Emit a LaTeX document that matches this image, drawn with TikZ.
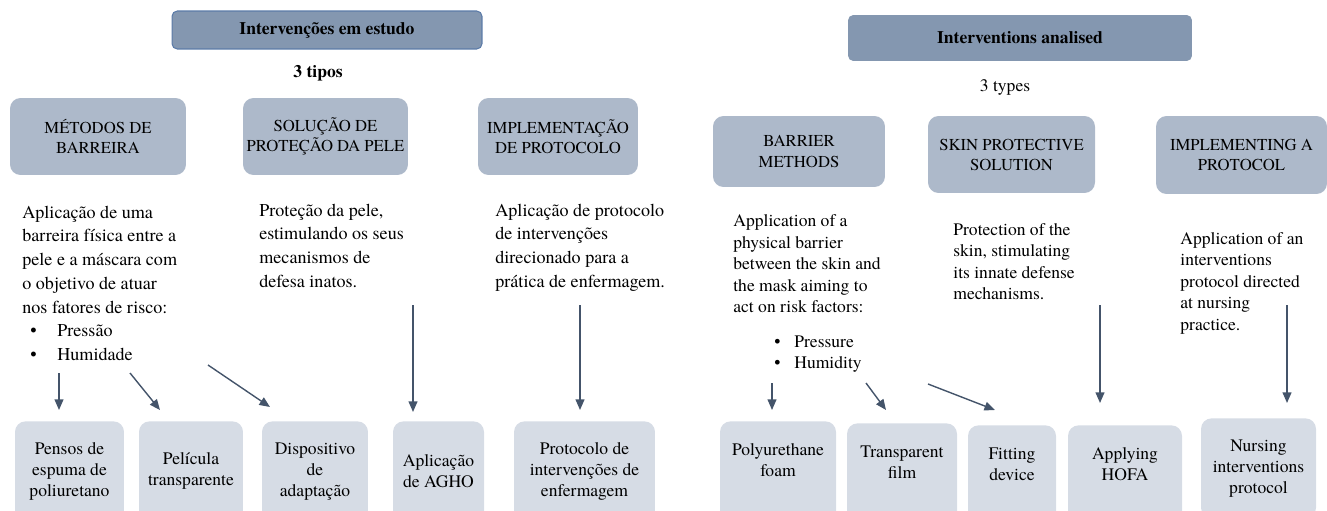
\documentclass[tikz,border=0pt]{standalone}
\usepackage{fontspec}
\setmainfont{TeX Gyre Termes}
\usetikzlibrary{arrows.meta}

\definecolor{titlefill}{HTML}{8497B0}
\definecolor{titleline}{HTML}{5B7BA8}
\definecolor{typefill}{HTML}{ADB9CA}
\definecolor{itemfill}{HTML}{D6DCE5}
\definecolor{arrowcol}{HTML}{44546A}

\begin{document}
\begin{tikzpicture}[x=0.02cm, y=-0.02cm,
    titlebox/.style={fill=titlefill, rounded corners=3pt, inner sep=0pt, font=\bfseries\fontsize{10}{12}\selectfont},
    typebox/.style={fill=typefill, rounded corners=6pt, inner sep=0pt, align=center, font=\fontsize{9.5}{11.4}\selectfont},
    itembox/.style={fill=itemfill, rounded corners=6pt, inner sep=0pt, anchor=north, minimum height=2cm, align=center, font=\fontsize{10}{11.9}\selectfont},
    raised/.style={text depth=0.45cm},
    bodytxtPT/.style={anchor=north west, inner sep=0pt, align=left, font=\fontsize{10.3}{13.5}\selectfont},
    bodytxtEN/.style={anchor=north west, inner sep=0pt, align=left, font=\fontsize{10}{12.2}\selectfont},
    arr/.style={draw=arrowcol, line width=0.8pt, -{Triangle[length=6pt,width=5pt]}}]
    \useasboundingbox (0,0) rectangle (1327,510);

    % Draw the left chart (Portuguese)
    \node[titlebox, draw=titleline, line width=0.6pt, minimum width=6.2cm, minimum height=0.76cm] (tituloPT) at (327,30) {Intervenções em estudo};
    \node[font=\bfseries\fontsize{10}{12}\selectfont] (tiposPT) at (318,73) {3 tipos};

    \node[typebox, minimum width=3.52cm, minimum height=1.54cm] (metodos) at (98,136.5) {MÉTODOS DE\\BARREIRA};
    \node[typebox, minimum width=3.3cm, minimum height=1.54cm] (solucao) at (325.5,136.5) {SOLUÇÃO DE\\PROTEÇÃO DA PELE};
    \node[typebox, minimum width=3.2cm, minimum height=1.54cm] (implementa) at (558,136.5) {IMPLEMENTAÇÃO\\DE PROTOCOLO};

    \node[bodytxtPT] (txtmetodos) at (22,205.5) {Aplicação de uma\\barreira física entre a\\pele e a máscara com\\o objetivo de atuar\\nos fatores de risco:\\
        \makebox[0.7cm][l]{\hspace{0.16cm}\textbullet}Pressão\\
        \makebox[0.7cm][l]{\hspace{0.16cm}\textbullet}Humidade};
    \node[bodytxtPT] (txtsolucao) at (259,203.5) {Proteção da pele,\\estimulando os seus\\mecanismos de\\defesa inatos.};
    \node[bodytxtPT] (txtimplementa) at (495,203.5) {Aplicação de protocolo\\de intervenções\\direcionado para a\\prática de enfermagem.};

    \node[itembox, minimum width=2.18cm] (pensos) at (69.5,421) {Pensos de\\espuma de\\poliuretano};
    \node[itembox, minimum width=2.08cm] (pelicula) at (191,421) {Película\\transparente};
    \node[itembox, minimum width=2.12cm] (dispositivo) at (315,421) {Dispositivo\\de\\adaptação};
    \node[itembox, minimum width=1.82cm] (agho) at (438.5,421) {Aplicação\\de AGHO};
    \node[itembox, minimum width=2.82cm] (protocolo) at (584.5,421) {Protocolo de\\intervenções de\\enfermagem};

    % Add arrows
    \coordinate (pensosS) at (59,373);   \coordinate (pensosE) at (59,410);
    \coordinate (peliculaS) at (130,373); \coordinate (peliculaE) at (160,410);
    \coordinate (dispS) at (208,365);    \coordinate (dispE) at (270,407);
    \coordinate (aghoS) at (413,305);    \coordinate (aghoE) at (413,412);
    \coordinate (protS) at (580,305);    \coordinate (protE) at (580,410);
    \draw[arr] (pensosS) -- (pensosE);
    \draw[arr] (peliculaS) -- (peliculaE);
    \draw[arr] (dispS) -- (dispE);
    \draw[arr] (aghoS) -- (aghoE);
    \draw[arr] (protS) -- (protE);

    % Draw the right chart (English)
    \node[titlebox, minimum width=6.88cm, minimum height=0.92cm] (titleEN) at (1020,38) {Interventions analised};
    \node[font=\fontsize{10}{12}\selectfont] (typesEN) at (1005,87) {3 types};

    \node[typebox, minimum width=3.44cm, minimum height=1.42cm] (barrier) at (799,151.5) {BARRIER\\METHODS};
    \node[typebox, minimum width=3.34cm, minimum height=1.54cm] (skin) at (1011.5,154.5) {SKIN PROTECTIVE\\SOLUTION};
    \node[typebox, minimum width=3.42cm, minimum height=1.56cm] (implementing) at (1241.5,155) {IMPLEMENTING A\\PROTOCOL};

    \node[bodytxtEN] (txtbarrier) at (733,214.5) {Application of a\\physical barrier\\between the skin and\\the mask aiming to\\act on risk factors:\\[0.27cm]
        \makebox[1.22cm][l]{\hspace{0.82cm}\textbullet}Pressure\\
        \makebox[1.22cm][l]{\hspace{0.82cm}\textbullet}Humidity};
    \node[bodytxtEN] (txtskin) at (953,223) {Protection of the\\skin, stimulating\\its innate defense\\mechanisms.};
    \node[bodytxtEN] (txtimplementing) at (1180,232) {Application of an\\interventions\\protocol directed\\at nursing\\practice.};

    \node[itembox, raised, minimum width=2.32cm] (foam) at (778,421) {Polyurethane\\foam};
    \node[itembox, raised, minimum width=2.2cm] (film) at (902,423) {Transparent\\film};
    \node[itembox, raised, minimum width=1.76cm] (fitting) at (1012,425) {Fitting\\device};
    \node[itembox, raised, minimum width=2.28cm] (hofa) at (1125,425) {Applying\\HOFA};
    \node[itembox, minimum width=2.3cm] (nursing) at (1258.5,418) {Nursing\\interventions\\protocol};

    % Add arrows
    \coordinate (foamS) at (772,383);     \coordinate (foamE) at (772,410);
    \coordinate (filmS) at (866,383);     \coordinate (filmE) at (886,410);
    \coordinate (fittingS) at (928,384);  \coordinate (fittingE) at (995,410);
    \coordinate (hofaS) at (1100,305);    \coordinate (hofaE) at (1100,403);
    \coordinate (nursingS) at (1287,305); \coordinate (nursingE) at (1287,403);
    \draw[arr] (foamS) -- (foamE);
    \draw[arr] (filmS) -- (filmE);
    \draw[arr] (fittingS) -- (fittingE);
    \draw[arr] (hofaS) -- (hofaE);
    \draw[arr] (nursingS) -- (nursingE);
\end{tikzpicture}
\end{document}
